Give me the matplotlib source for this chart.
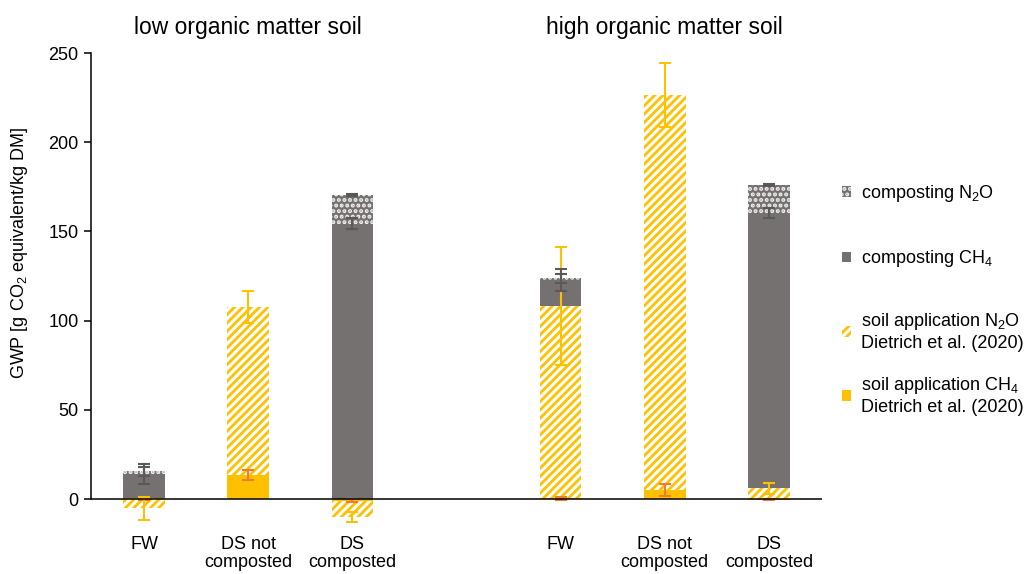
import matplotlib
matplotlib.use('Agg')
import matplotlib.pyplot as plt
import numpy as np

# Fonts: Arial-like text, subscripts through mathtext in the same family
plt.rcParams['font.family'] = ['Liberation Sans', 'DejaVu Sans']
plt.rcParams['mathtext.fontset'] = 'custom'
plt.rcParams['mathtext.rm'] = 'Liberation Sans'
plt.rcParams['mathtext.it'] = 'Liberation Sans:italic'
plt.rcParams['hatch.linewidth'] = 2.0

# Treatments, two soils with a gap between them
soils = ['low organic matter soil', 'high organic matter soil']
treatments = ['FW', 'DS not\ncomposted', 'DS\ncomposted',
              'FW', 'DS not\ncomposted', 'DS\ncomposted']
x_pos = [0, 1, 2, 4, 5, 6]

# GWP contributions [g CO2 eq / kg DM] and their error bars
soil_ch4 = [0.5, 13.6, -1.0, 0.5, 5.0, -0.5]
soil_ch4_err = [0.8, 2.8, 0.8, 0.8, 3.2, 0.3]
soil_n2o = [-5.2, 94.0, -8.9, 107.7, 221.5, 6.0]
soil_n2o_err = [6.5, 9.0, 2.8, 33.0, 18.0, 3.1]
comp_ch4 = [13.6, 0, 154.4, 14.5, 0, 154.1]
comp_ch4_err = [5.8, 0, 3.0, 6.0, 0, 2.8]
comp_n2o = [1.4, 0, 16.0, 1.0, 0, 15.9]
comp_n2o_err = [2.5, 0, 0.5, 2.5, 0, 0.5]

yellow = '#FFC000'
orange = '#ED7D31'
grey = '#767171'
dark = '#595959'

# stacking order from bottom to top
series = [
    (soil_ch4, soil_ch4_err, yellow, yellow, None, orange,
     'soil application CH$_4$\nDietrich et al. (2020)'),
    (soil_n2o, soil_n2o_err, 'white', yellow, '////', yellow,
     'soil application N$_2$O\nDietrich et al. (2020)'),
    (comp_ch4, comp_ch4_err, grey, grey, None, dark, 'composting CH$_4$'),
    (comp_n2o, comp_n2o_err, grey, '#F2F2F2', '...', dark, 'composting N$_2$O'),
]

fig = plt.figure(figsize=(10.31, 5.74), dpi=100)
ax = fig.add_axes([91 / 1031, 1 - 522.2 / 574, (822 - 91) / 1031, (522.2 - 53) / 574])

x = np.array(x_pos)
pos_base = np.zeros(len(x))
neg_base = np.zeros(len(x))
handles = []
for vals, errs, face, hcol, hatch, ecol, label in series:
    vals = np.array(vals, dtype=float)
    errs = np.array(errs, dtype=float)
    bottom = np.where(vals >= 0, pos_base, neg_base)
    bars = ax.bar(x, vals, 0.4, bottom=bottom, color=face, edgecolor=hcol,
                  hatch=hatch, linewidth=0, label=label, zorder=2)
    handles.append(bars)
    top = bottom + vals
    pos_base = np.where(vals >= 0, top, pos_base)
    neg_base = np.where(vals < 0, top, neg_base)
    # error bars sit on the top of each stacked segment
    m = errs > 0
    ax.errorbar(x[m], top[m], yerr=errs[m], fmt='none', ecolor=ecol,
                elinewidth=1.5, capsize=4.3, capthick=1.5, zorder=4)

# zero line across the plot
ax.axhline(0, color='black', linewidth=1.1, zorder=5)

ax.set_xlim(-0.51, 6.51)
ax.set_ylim(-13, 250)
ax.set_yticks(np.arange(0, 251, 50))
ax.spines['left'].set_bounds(0, 250)
ax.spines['left'].set_linewidth(1.1)
for s in ['top', 'right', 'bottom']:
    ax.spines[s].set_visible(False)
ax.tick_params(axis='y', labelsize=13, length=5, width=1.1, direction='out', pad=4)
ax.set_xticks(x_pos)
ax.set_xticklabels(treatments, fontsize=13, linespacing=1.1)
ax.tick_params(axis='x', length=0, pad=10)

# soil titles above each group
for xc, name in zip([1, 5], soils):
    ax.text(xc, 1.0 + 25 / 469, name, transform=ax.get_xaxis_transform(),
            ha='center', va='center', fontsize=16.5)

fig.text(20 / 1031, 1 - 253 / 574, 'GWP [g CO$_2$ equivalent/kg DM]',
         rotation=90, ha='center', va='center', fontsize=13)

# legend in reverse stacking order: composting entries, then soil entries
leg_style = dict(loc='upper left', frameon=False, fontsize=13,
                 handlelength=0.5, handleheight=0.5, handletextpad=0.55,
                 borderpad=0, borderaxespad=0)
rev = handles[::-1]
fig.legend(rev[:2], [h.get_label() for h in rev[:2]],
           bbox_to_anchor=(842 / 1031, 1 - 183 / 574),
           labelspacing=2.45, **leg_style)
fig.legend(rev[2:], [h.get_label() for h in rev[2:]],
           bbox_to_anchor=(842 / 1031, 1 - 311 / 574),
           labelspacing=1.3, **leg_style)

plt.savefig('out.png', dpi=100)
